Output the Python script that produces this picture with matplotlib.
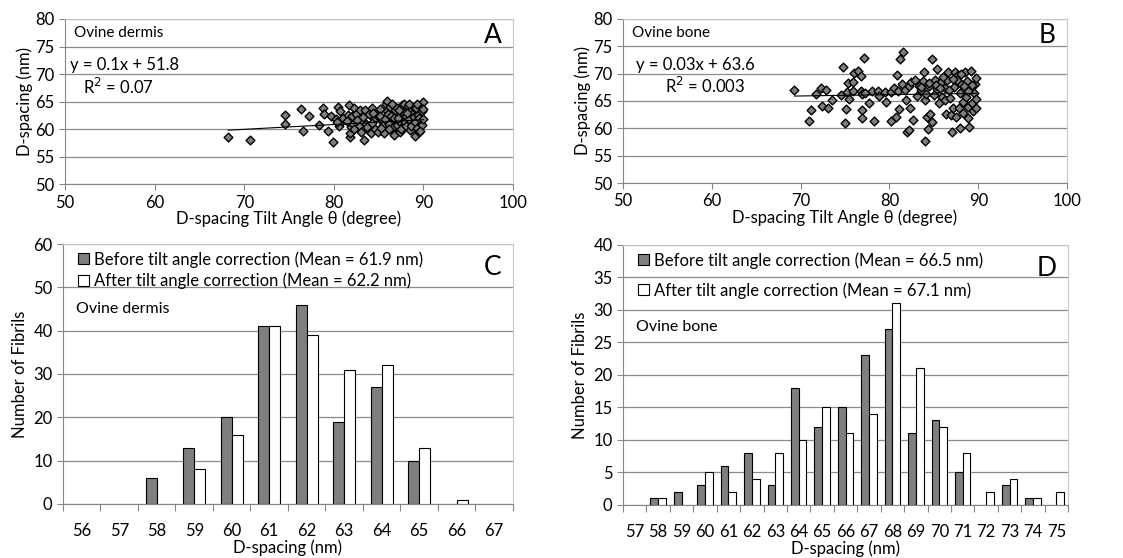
import matplotlib.pyplot as plt
from matplotlib.patches import Patch
import numpy as np

plt.rcParams['font.family'] = ['Lato', 'DejaVu Sans']

# panel A: ovine dermis, tilt angle vs D-spacing
dermis_angle = [68.2, 70.6, 74.5, 74.6, 76.3, 76.6, 77.2, 78.3, 78.8, 78.9, 79.4, 79.9, 79.7,
                80.2, 80.5, 80.7, 80.6, 80.9, 81.0, 80.3,
                81.7, 81.8, 81.8, 81.6, 81.9, 82.1, 82.2, 81.5, 82.0,
                82.5, 82.8, 82.6, 83.0, 82.9, 82.3,
                83.4, 83.5, 83.6, 83.8, 83.2, 83.9, 83.7,
                84.1, 84.3, 84.5, 84.6, 84.8, 84.2, 84.9, 84.4,
                85.2, 85.4, 85.6, 85.8, 85.9, 85.5, 85.1, 85.7, 85.3, 85.9,
                86.0, 86.2, 86.3, 86.5, 86.6, 86.7, 86.4, 86.8, 86.1, 86.9, 86.5, 86.7,
                87.0, 87.1, 87.3, 87.4, 87.5, 87.6, 87.7, 87.8, 87.9, 87.2, 87.5, 87.8, 87.3,
                88.0, 88.1, 88.3, 88.4, 88.5, 88.6, 88.7, 88.8, 88.9, 88.2, 88.6, 89.0, 88.9, 88.4,
                89.1, 89.2, 89.3, 89.4, 89.5, 89.6, 89.7, 89.8, 89.9, 90.0, 89.5, 89.8, 89.3, 89.9, 89.6]
dermis_d = [58.5, 58.0, 62.6, 60.9, 63.6, 59.7, 62.4, 60.8, 63.8, 62.8, 59.6, 57.7, 62.3,
            61.8, 64.1, 63.3, 60.5, 61.5, 62.0, 61.2,
            64.4, 58.5, 59.2, 62.6, 60.3, 61.0, 63.8, 61.5, 62.3,
            62.8, 60.5, 61.6, 59.5, 63.4, 60.0,
            58.1, 63.5, 61.0, 59.8, 62.2, 62.8, 60.3,
            59.3, 63.8, 61.8, 60.0, 62.5, 61.1, 59.5, 62.9,
            63.6, 61.5, 59.2, 64.5, 65.1, 60.7, 62.4, 61.9, 60.2, 63.3,
            62.8, 61.0, 64.0, 59.8, 60.4, 58.9, 62.3, 63.5, 60.1, 61.7, 64.5, 62.0,
            60.8, 63.8, 61.5, 59.4, 62.6, 64.3, 60.2, 63.0, 61.2, 62.1, 60.0, 64.6, 63.5,
            62.4, 60.5, 64.2, 61.8, 59.9, 63.5, 62.7, 61.0, 64.0, 63.0, 60.6, 58.7, 62.2, 64.6,
            61.3, 63.8, 60.2, 62.6, 59.4, 64.2, 61.0, 63.3, 65.0, 63.7, 62.0, 60.8, 64.6, 61.8, 59.7]
dermis_trend = (0.087, 53.87)

# panel B: ovine bone
bone_angle = [69.3, 70.9, 71.2, 71.7, 72.3, 72.4, 72.8, 73.1, 73.5, 74.5, 74.8, 75.0, 75.1, 75.2,
              75.3, 75.4, 75.9, 75.9, 76.0, 76.5, 76.8, 76.8, 76.9, 76.9, 76.9, 77.1, 77.3, 77.7,
              78.0, 78.3, 78.7, 78.8, 79.5, 79.6, 80.2, 80.2, 80.7, 80.5, 80.9, 81.0, 81.1, 81.2,
              81.5, 81.4, 81.7, 81.9, 82.0, 82.2, 82.2, 82.3, 82.4, 82.6, 82.9, 83.1, 83.3, 83.5,
              83.8, 83.9, 84.0, 84.0, 84.1, 84.2, 84.3, 84.5, 84.6, 84.8, 84.8, 85.0, 85.1, 85.3,
              85.4, 85.6, 85.8, 85.9, 86.2, 86.3, 86.4, 86.5, 86.6, 86.8, 86.9, 87.0, 87.1, 87.3,
              87.4, 87.5, 87.7, 87.8, 87.9, 87.9, 88.0, 88.3, 88.3, 88.5, 88.6, 88.7, 88.8, 88.9,
              89.0, 89.1, 89.2, 89.3, 89.4, 89.5, 89.6, 89.8, 89.7, 89.8,
              83.6, 84.4, 85.2, 86.0, 86.7, 87.6, 88.1, 88.8, 89.3, 85.7, 87.2, 88.4]
bone_d = [67.1, 61.3, 63.3, 66.2, 67.4, 64.0, 67.0, 63.8, 65.1, 66.1, 71.2, 60.9, 63.5, 66.6,
          68.3, 65.4, 66.9, 68.4, 70.2, 70.4, 69.5, 66.9, 66.2, 63.3, 61.9, 72.9, 66.4, 64.7,
          66.9, 61.4, 66.8, 65.9, 66.6, 64.8, 66.6, 61.4, 62.0, 67.4, 69.7, 66.9, 63.6, 72.6,
          73.9, 68.1, 67.0, 65.1, 59.3, 59.7, 67.8, 63.7, 68.5, 61.5, 68.8, 66.0, 67.8, 67.1,
          68.6, 70.3, 65.1, 57.6, 66.3, 62.1, 59.8, 67.8, 62.6, 72.6, 61.1, 66.1, 68.8, 70.9,
          67.2, 64.6, 68.5, 65.7, 65.1, 67.4, 62.6, 68.8, 70.3, 65.6, 62.5, 59.3, 63.7, 67.5,
          70.3, 62.0, 69.7, 63.8, 66.4, 60.1, 68.1, 64.8, 62.8, 70.3, 65.7, 68.6, 61.9, 63.9,
          60.3, 67.2, 70.4, 64.6, 63.2, 66.4, 68.1, 69.2, 65.4, 63.7,
          67.6, 68.2, 67.9, 69.4, 67.0, 68.9, 69.9, 66.9, 68.0, 67.3, 69.0, 67.7]
bone_trend = (0.024, 64.24)

# panel C histogram (dermis)
c_bins = [56, 57, 58, 59, 60, 61, 62, 63, 64, 65, 66, 67]
c_before = [0, 0, 6, 13, 20, 41, 46, 19, 27, 10, 0, 0]
c_after = [0, 0, 0, 8, 16, 41, 39, 31, 32, 13, 1, 0]

# panel D histogram (bone)
d_bins = list(range(57, 76))
d_before = [0, 1, 2, 3, 6, 8, 3, 18, 12, 15, 23, 27, 11, 13, 5, 0, 3, 1, 0]
d_after = [0, 1, 0, 5, 2, 4, 8, 10, 15, 11, 14, 31, 21, 12, 8, 2, 4, 1, 2]

GRID = '#8c8c8c'
AXC = '#868686'


def style(ax):
    for s in ['top', 'right']:
        ax.spines[s].set_color('#c8c8c8')
    for s in ['left', 'bottom']:
        ax.spines[s].set_color(AXC)
    ax.yaxis.grid(True, color=GRID, lw=0.9)
    ax.set_axisbelow(True)
    ax.tick_params(colors=AXC, labelcolor='black', labelsize=12, length=4)


fig = plt.figure(figsize=(11.23, 5.58), dpi=100)

scatter_panels = [
    ([0.0579, 0.670, 0.399, 0.296], dermis_angle, dermis_d, dermis_trend, 'Ovine dermis',
     'y = 0.1x + 51.8', 'R$^2$ = 0.07', 'A', 0.01, 0.04),
    ([0.5548, 0.672, 0.3954, 0.294], bone_angle, bone_d, bone_trend, 'Ovine bone',
     'y = 0.03x + 63.6', 'R$^2$ = 0.003', 'B', 0.03, 0.095),
]
for pos, xs, ys, tr, name, eq, r2, letter, eqx, r2x in scatter_panels:
    ax = fig.add_axes(pos)
    style(ax)
    ax.scatter(xs, ys, marker='D', s=20, facecolor='#7f7f7f', edgecolor='black', lw=1.0, zorder=3)
    xl = np.array([min(xs), max(xs)])
    ax.plot(xl, tr[0] * xl + tr[1], color='black', lw=0.8, zorder=4)
    ax.set_xlim(50, 100)
    ax.set_ylim(50, 80)
    ax.set_xticks(range(50, 101, 10))
    ax.set_yticks(range(50, 81, 5))
    ax.set_xlabel('D-spacing Tilt Angle θ (degree)', fontsize=12, labelpad=0)
    ax.set_ylabel('D-spacing (nm)', fontsize=12, labelpad=2)
    ax.text(0.02, 0.915, name, transform=ax.transAxes, fontsize=11, va='center')
    ax.text(eqx, 0.72, eq, transform=ax.transAxes, fontsize=12, va='center')
    ax.text(r2x, 0.59, r2, transform=ax.transAxes, fontsize=12, va='center')
    ax.text(0.975, 0.9, letter, transform=ax.transAxes, fontsize=19, ha='right', va='center')

bar_panels = [
    ([0.0561, 0.0968, 0.4007, 0.4659], c_bins, c_before, c_after, 0.29, 60, 10,
     '(Mean = 61.9 nm)', '(Mean = 62.2 nm)', 'Ovine dermis', 'C', 0.75, 0.3),
    ([0.5548, 0.095, 0.3963, 0.466], d_bins, d_before, d_after, 0.33, 40, 5,
     '(Mean = 66.5 nm)', '(Mean = 67.1 nm)', 'Ovine bone', 'D', 0.685, 0.8),
]
for pos, bins, before, after, w, ymax, ystep, m1, m2, name, letter, name_y, lsp in bar_panels:
    ax = fig.add_axes(pos)
    style(ax)
    idx = np.arange(len(bins))
    lw_b = np.where(np.array(before) > 0, 0.8, 0)
    lw_a = np.where(np.array(after) > 0, 0.8, 0)
    ax.bar(idx - w / 2, before, width=w, color='#7f7f7f', edgecolor='black', linewidth=lw_b, zorder=3)
    ax.bar(idx + w / 2, after, width=w, color='white', edgecolor='black', linewidth=lw_a, zorder=3)
    ax.set_xlim(-0.5, len(bins) - 0.5)
    ax.set_ylim(0, ymax)
    ax.set_yticks(range(0, ymax + 1, ystep))
    ax.set_xticks(np.arange(len(bins) + 1) - 0.5)
    ax.set_xticklabels([])
    ax.set_xticks(idx, minor=True)
    ax.set_xticklabels([str(b) for b in bins], minor=True)
    ax.tick_params(axis='x', which='major', length=5, colors=AXC)
    ax.tick_params(axis='x', which='minor', length=0, pad=14, labelsize=12)
    ax.set_xlabel('D-spacing (nm)', fontsize=12, labelpad=0)
    ax.set_ylabel('Number of Fibrils', fontsize=12, labelpad=4)
    handles = [Patch(facecolor='#7f7f7f', edgecolor='black', lw=0.8),
               Patch(facecolor='white', edgecolor='black', lw=0.8)]
    ax.legend(handles, ['Before tilt angle correction ' + m1, 'After tilt angle correction ' + m2],
              loc='upper left', bbox_to_anchor=(0.0, 1.03), frameon=False, fontsize=12,
              handlelength=0.65, handleheight=0.65, handletextpad=0.3, labelspacing=lsp)
    ax.text(0.03, name_y, name, transform=ax.transAxes, fontsize=11.5, va='center')
    ax.text(0.975, 0.91, letter, transform=ax.transAxes, fontsize=19, ha='right', va='center')

fig.savefig('out.png', dpi=100)
